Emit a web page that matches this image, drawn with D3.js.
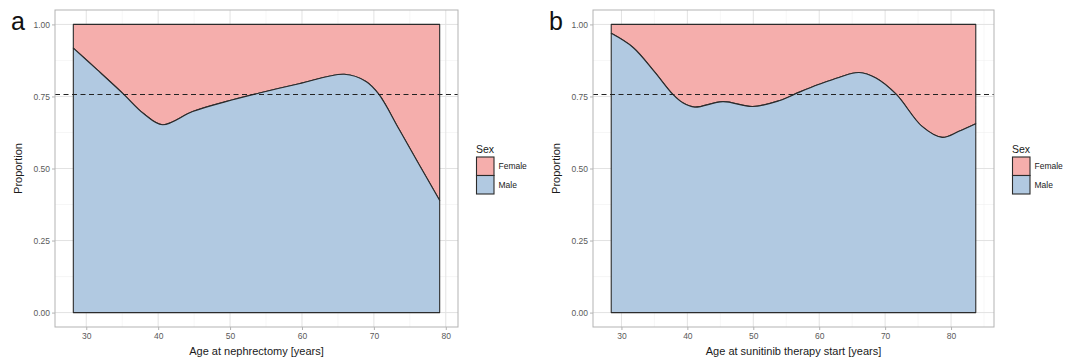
<!DOCTYPE html>
<html>
<head>
<meta charset="utf-8">
<script src="https://cdn.jsdelivr.net/npm/d3@7/dist/d3.min.js"></script>
<style>
  html, body { margin: 0; padding: 0; background: #fff; }
  svg { display: block; font-family: "Liberation Sans", Arial, Helvetica, sans-serif; }
</style>
</head>
<body>
<svg id="chart" width="1069" height="360"></svg>
<script>
// Proportion of male patients by age (smoothed), panel a: age at nephrectomy
const ageA  = [28.2, 31.5, 35.1, 38.0, 40.6, 44.8, 49.4, 54.1, 59.6, 65.9, 68.9, 70.7, 73.5, 76.3, 79.15];
const maleA = [0.918, 0.843, 0.760, 0.690, 0.652, 0.698, 0.732, 0.762, 0.794, 0.827, 0.802, 0.757, 0.636, 0.513, 0.389];

// Panel b: age at sunitinib therapy start
const ageB  = [28.45, 31.76, 34.99, 37.8, 39.3, 41.1, 45.4, 49.9, 53.9, 57.0, 60.0, 63.0, 66.05, 68.6, 71.7, 75.6, 78.65, 81.2, 83.75];
const maleB = [0.969, 0.920, 0.836, 0.757, 0.728, 0.713, 0.732, 0.715, 0.735, 0.765, 0.792, 0.816, 0.833, 0.814, 0.757, 0.646, 0.608, 0.629, 0.655];

const overallMale = 0.757;                 // reference line (overall male share)
const xTicks = [30, 40, 50, 60, 70, 80];
const yTicks = [0, 0.25, 0.5, 0.75, 1];
const yTickLabels = ["0.00", "0.25", "0.50", "0.75", "1.00"];
const sexLevels = ["Female", "Male"];
const sexColors = ["#f5aeac", "#b1c9e1"];

const panels = [
  { tag: "a", xTitle: "Age at nephrectomy [years]", ages: ageA, male: maleA, left: 55, right: 458 },
  { tag: "b", xTitle: "Age at sunitinib therapy start [years]", ages: ageB, male: maleB, left: 593, right: 994 }
];

const panelTop = 10, panelBottom = 327;
const svg = d3.select("#chart");
const color = d3.scaleOrdinal().domain(sexLevels).range(sexColors);

panels.forEach(p => {
  const ext = d3.extent(p.ages);
  const pad = (ext[1] - ext[0]) * 0.05;
  const x = d3.scaleLinear().domain([ext[0] - pad, ext[1] + pad]).range([p.left, p.right]);
  const y = d3.scaleLinear().domain([-0.05, 1.05]).range([panelBottom, panelTop]);

  const g = svg.append("g");
  const rows = p.ages.map((a, i) => ({ age: a, male: p.male[i] }));

  // grid (major + minor)
  const xMinor = d3.range(25, 90, 5).filter(v => v % 10 !== 0 && x(v) > p.left && x(v) < p.right);
  const yMinor = [0.125, 0.375, 0.625, 0.875];
  g.selectAll(".gx").data(xMinor).join("line")
    .attr("x1", d => x(d)).attr("x2", d => x(d)).attr("y1", panelTop).attr("y2", panelBottom)
    .attr("stroke", "#ececec").attr("stroke-width", 0.5);
  g.selectAll(".gy").data(yMinor).join("line")
    .attr("x1", p.left).attr("x2", p.right).attr("y1", d => y(d)).attr("y2", d => y(d))
    .attr("stroke", "#ececec").attr("stroke-width", 0.5);
  g.selectAll(".gX").data(xTicks).join("line")
    .attr("x1", d => x(d)).attr("x2", d => x(d)).attr("y1", panelTop).attr("y2", panelBottom)
    .attr("stroke", "#e2e2e2").attr("stroke-width", 1);
  g.selectAll(".gY").data(yTicks).join("line")
    .attr("x1", p.left).attr("x2", p.right).attr("y1", d => y(d)).attr("y2", d => y(d))
    .attr("stroke", "#e2e2e2").attr("stroke-width", 1);

  const curve = d3.curveCatmullRom.alpha(0.5);

  // Female: from male curve up to 1
  const female = d3.area().x(d => x(d.age)).y0(d => y(d.male)).y1(() => y(1)).curve(curve);
  const male = d3.area().x(d => x(d.age)).y0(() => y(0)).y1(d => y(d.male)).curve(curve);

  g.append("path").datum(rows).attr("d", female)
    .attr("fill", color("Female")).attr("stroke", "#2b2b2b").attr("stroke-width", 1.1)
    .attr("stroke-linejoin", "round");
  g.append("path").datum(rows).attr("d", male)
    .attr("fill", color("Male")).attr("stroke", "#2b2b2b").attr("stroke-width", 1.1)
    .attr("stroke-linejoin", "round");

  // overall reference line
  g.append("line")
    .attr("x1", p.left).attr("x2", p.right)
    .attr("y1", y(overallMale)).attr("y2", y(overallMale))
    .attr("stroke", "#222").attr("stroke-width", 1.1).attr("stroke-dasharray", "5,3.5");

  // panel border
  g.append("rect").attr("x", p.left).attr("y", panelTop)
    .attr("width", p.right - p.left).attr("height", panelBottom - panelTop)
    .attr("fill", "none").attr("stroke", "#b3b3b3").attr("stroke-width", 1);

  // axes
  const xAxis = d3.axisBottom(x).tickValues(xTicks).tickSize(3).tickPadding(3).tickFormat(d3.format("d"));
  const yAxis = d3.axisLeft(y).tickValues(yTicks).tickSize(3).tickPadding(2)
    .tickFormat((d, i) => yTickLabels[i]);

  const gx = g.append("g").attr("transform", `translate(0,${panelBottom})`).call(xAxis);
  const gy = g.append("g").attr("transform", `translate(${p.left},0)`).call(yAxis);
  [gx, gy].forEach(ax => {
    ax.select(".domain").remove();
    ax.selectAll(".tick line").attr("stroke", "#b3b3b3");
    ax.selectAll(".tick text").attr("fill", "#5a5a5a").attr("font-size", 8.5)
      .attr("font-family", "Liberation Sans, Arial, sans-serif");
  });

  // axis titles
  g.append("text").attr("x", (p.left + p.right) / 2).attr("y", 355)
    .attr("text-anchor", "middle").attr("font-size", 11).attr("fill", "#1a1a1a")
    .text(p.xTitle);
  g.append("text")
    .attr("transform", `translate(${p.left - 33},${(panelTop + panelBottom) / 2}) rotate(-90)`)
    .attr("text-anchor", "middle").attr("font-size", 11).attr("fill", "#1a1a1a")
    .text("Proportion");

  // panel tag
  g.append("text").attr("x", p.left - 44).attr("y", 30)
    .attr("font-size", 25).attr("fill", "#111").text(p.tag);

  // legend
  const lx = p.right + 18;
  const leg = g.append("g").attr("transform", `translate(${lx},0)`);
  leg.append("text").attr("x", 0).attr("y", 153).attr("font-size", 10.5).attr("fill", "#1a1a1a").text("Sex");
  const keySize = 18.5;
  sexLevels.forEach((s, i) => {
    const ky = 157 + i * keySize;
    leg.append("rect").attr("x", 0.5).attr("y", ky).attr("width", keySize - 1).attr("height", keySize)
      .attr("fill", color(s)).attr("stroke", "#2b2b2b").attr("stroke-width", 1.1);
    leg.append("text").attr("x", keySize + 4).attr("y", ky + keySize / 2 + 3)
      .attr("font-size", 8.5).attr("fill", "#1a1a1a").text(s);
  });
});
</script>
</body>
</html>
